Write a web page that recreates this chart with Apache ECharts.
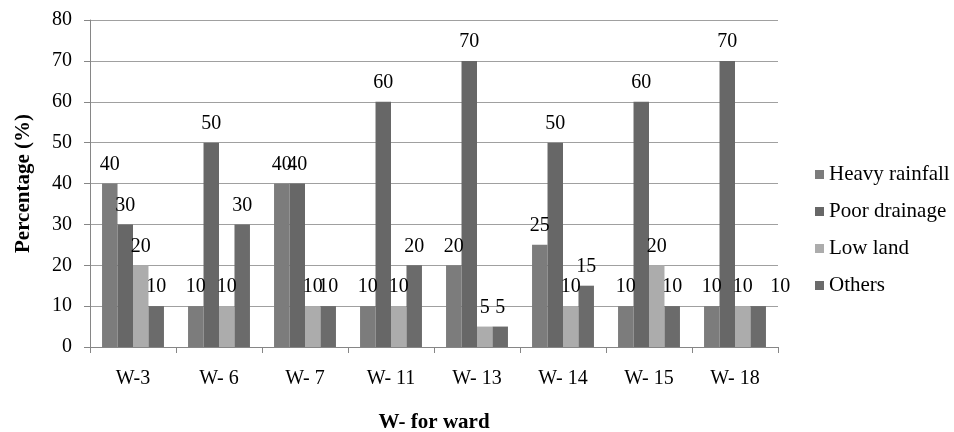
<!DOCTYPE html>
<html><head><meta charset="utf-8">
<script src="https://cdn.jsdelivr.net/npm/echarts@6/dist/echarts.min.js"></script>
<style>html,body{margin:0;padding:0;background:#fff}#c{width:954px;height:432px}</style>
</head><body><div id="c"></div>
<script>
const categories = ["W-3", "W- 6", "W- 7", "W- 11", "W- 13", "W- 14", "W- 15", "W- 18"];
const heavyRainfall = [40, 10, 40, 10, 20, 25, 10, 10];
const poorDrainage = [30, 50, 40, 60, 70, 50, 60, 70];
const lowLand = [20, 10, 10, 10, 5, 10, 20, 10];
const others = [10, 30, 10, 20, 5, 15, 10, 10];
const yTicks = [0, 10, 20, 30, 40, 50, 60, 70, 80];

const FONT = "Liberation Serif";
const chart = echarts.init(document.getElementById('c'), null, {renderer: 'canvas'});
const lbl = {show: true, position: 'top', distance: 9, color: '#000', fontFamily: FONT, fontSize: 20};
function mk(name, data, color, extra) {
  return {
    name, type: 'bar', data: data.map((v, i) => {
      const o = {value: v};
      if (extra && extra[i]) o.label = extra[i];
      return o;
    }),
    itemStyle: {color},
    label: lbl, barGap: '0%', barCategoryGap: '28%'
  };
}
chart.setOption({
  animation: false,
  backgroundColor: '#fff',
  textStyle: {fontFamily: FONT},
  grid: {left: 90, right: 176, top: 20, bottom: 85, outerBoundsMode: 'none', containLabel: false},
  legend: {
    orient: 'vertical', left: 810, top: 159, itemWidth: 9, itemHeight: 9, itemGap: 16,
    icon: 'rect',
    textStyle: {fontFamily: FONT, fontSize: 21, color: '#000'},
    data: ['Heavy rainfall', 'Poor drainage', 'Low land', 'Others']
  },
  xAxis: {
    type: 'category', data: categories,
    name: 'W- for ward', nameLocation: 'middle', nameGap: 65,
    nameTextStyle: {fontFamily: FONT, fontSize: 21, fontWeight: 'bold', color: '#000'},
    axisLine: {lineStyle: {color: '#868686'}},
    axisTick: {show: true, length: 6, lineStyle: {color: '#868686'}},
    axisLabel: {fontFamily: FONT, fontSize: 20, color: '#000', margin: 22}
  },
  yAxis: {
    type: 'value', min: 0, max: 80, interval: 10,
    name: 'Percentage (%)', nameLocation: 'middle', nameGap: 56,
    nameTextStyle: {fontFamily: FONT, fontSize: 21, fontWeight: 'bold', color: '#000'},
    axisLine: {show: true, lineStyle: {color: '#868686'}},
    axisTick: {show: true, length: 6, lineStyle: {color: '#868686'}},
    axisLabel: {fontFamily: FONT, fontSize: 20, color: '#000', margin: 18,
      formatter: v => yTicks.includes(v) ? String(v) : ''},
    splitLine: {lineStyle: {color: '#a0a0a0'}}
  },
  series: [
    mk('Heavy rainfall', heavyRainfall, '#7c7c7c'),
    mk('Poor drainage', poorDrainage, '#676767'),
    mk('Low land', lowLand, '#acacac'),
    mk('Others', others, '#6b6b6b', {7: {offset: [22, 0]}})
  ]
});
</script></body></html>
